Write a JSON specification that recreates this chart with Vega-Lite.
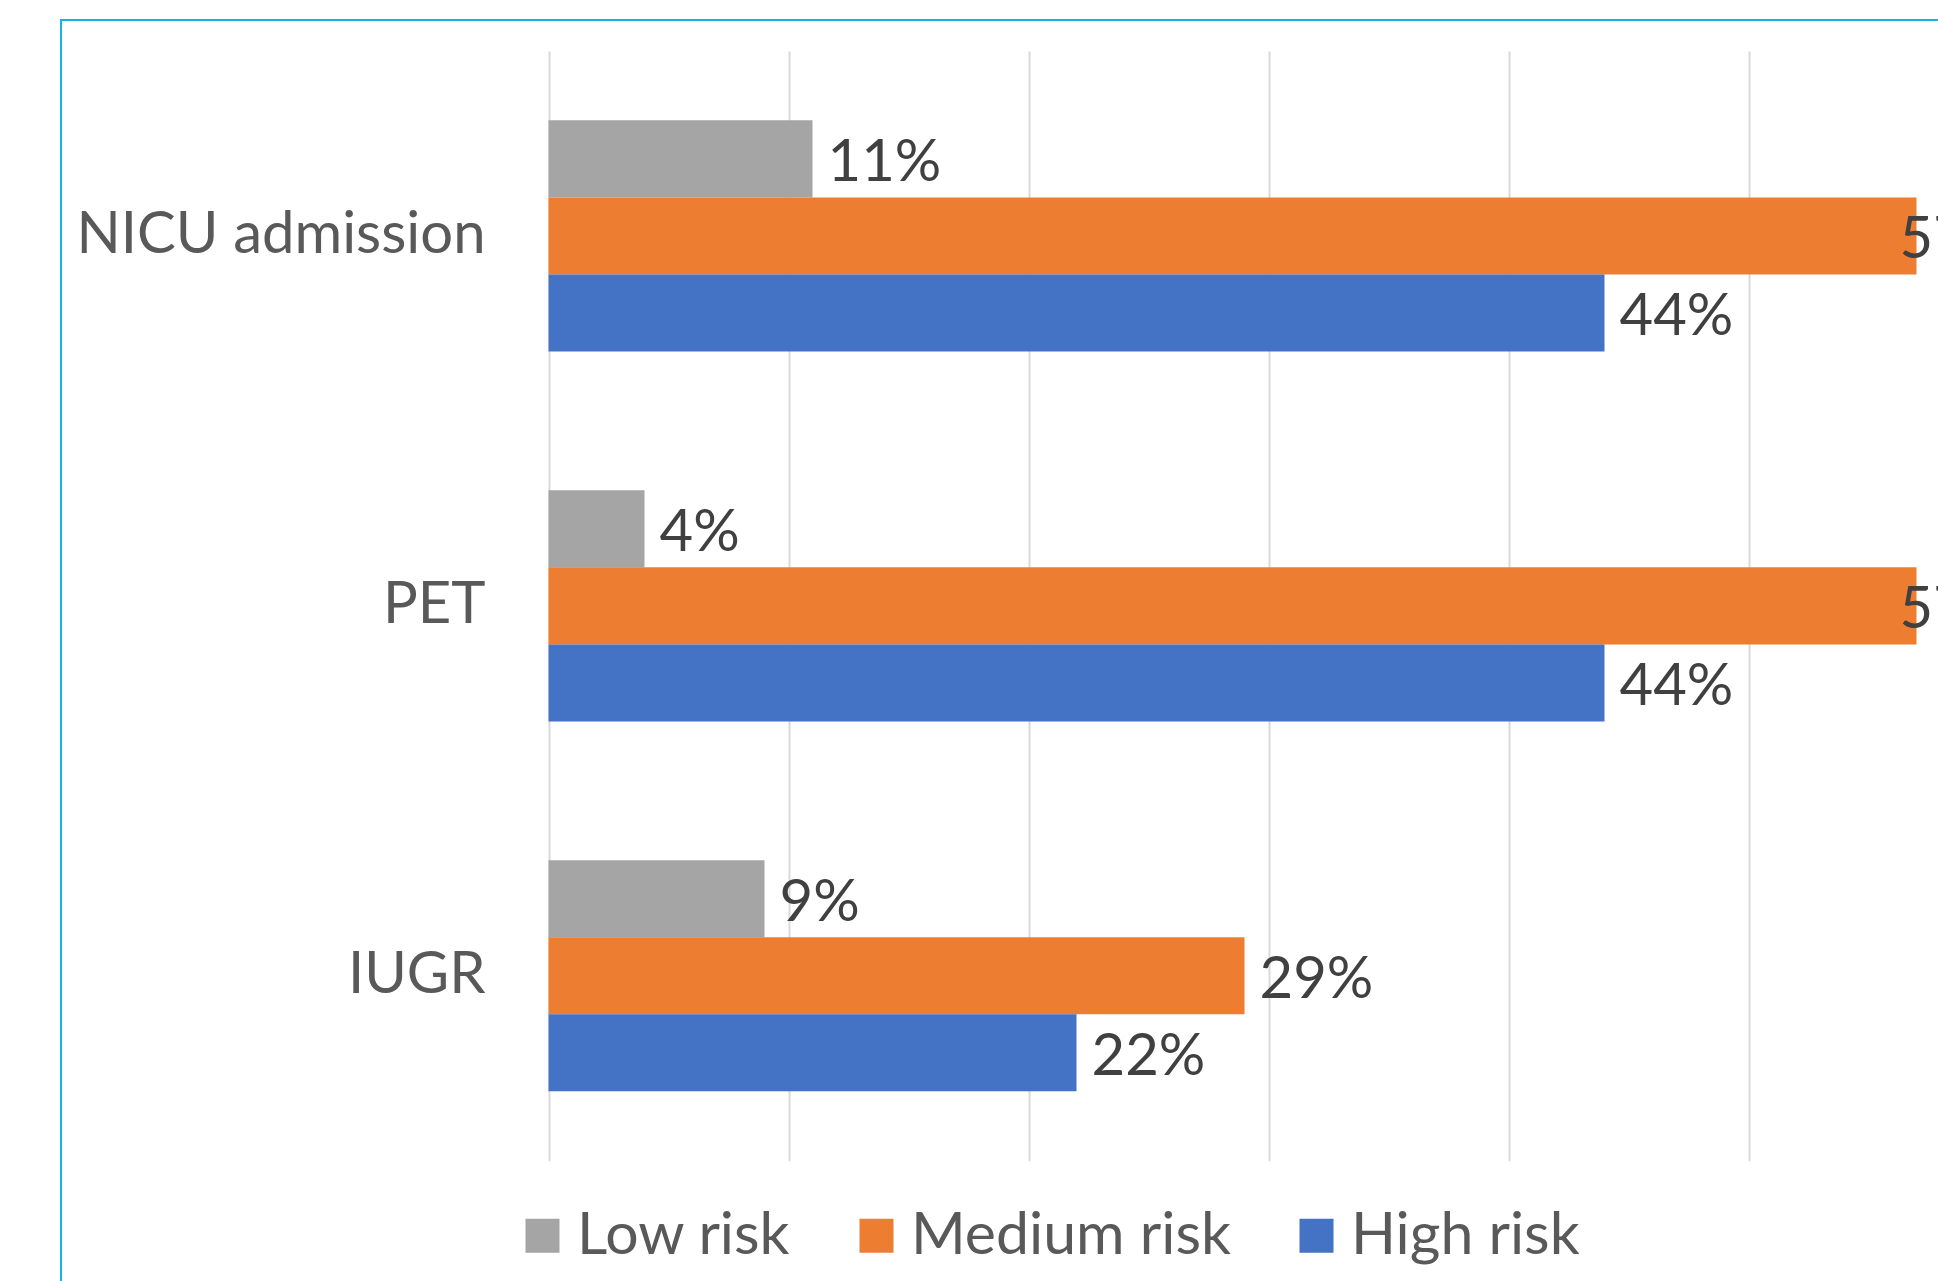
{
  "$schema": "https://vega.github.io/schema/vega-lite/v6.json",
  "autosize": {"type": "none"},
  "padding": {"left": 61, "top": 20, "right": 0, "bottom": 0},
  "width": 1877,
  "height": 1261,
  "background": "#FFFFFF",
  "config": {
    "view": {"fill": "#FFFFFF", "stroke": "#14B4E4", "strokeWidth": 2, "strokeDash": [1877, 3138, 1262]},
    "font": "Lato"
  },
  "data": {
    "values": [
      {"outcome": "NICU admission", "risk": "Low risk", "pct": 0.11},
      {"outcome": "NICU admission", "risk": "Medium risk", "pct": 0.57},
      {"outcome": "NICU admission", "risk": "High risk", "pct": 0.44},
      {"outcome": "PET", "risk": "Low risk", "pct": 0.04},
      {"outcome": "PET", "risk": "Medium risk", "pct": 0.57},
      {"outcome": "PET", "risk": "High risk", "pct": 0.44},
      {"outcome": "IUGR", "risk": "Low risk", "pct": 0.09},
      {"outcome": "IUGR", "risk": "Medium risk", "pct": 0.29},
      {"outcome": "IUGR", "risk": "High risk", "pct": 0.22}
    ]
  },
  "encoding": {
    "y": {
      "field": "outcome",
      "type": "nominal",
      "sort": ["NICU admission", "PET", "IUGR"],
      "scale": {"range": [31, 1140.7], "paddingInner": 0.375, "paddingOuter": 0.1875},
      "axis": {
        "title": null,
        "domain": false,
        "ticks": false,
        "tickSize": 0,
        "grid": false,
        "offset": -424,
        "labelPadding": 0,
        "labelAlign": "right",
        "labelFont": "Lato",
        "labelFontSize": 58,
        "labelColor": "#595959",
        "labelLimit": 0
      }
    },
    "yOffset": {
      "field": "risk",
      "type": "nominal",
      "sort": ["Low risk", "Medium risk", "High risk"],
      "scale": {"paddingInner": 0, "paddingOuter": 0}
    },
    "x": {
      "field": "pct",
      "type": "quantitative",
      "scale": {"domain": [0, 0.6], "range": [487.5, 1927.5], "nice": false, "zero": true},
      "axis": {
        "title": null,
        "orient": "top",
        "labels": false,
        "ticks": false,
        "domain": false,
        "grid": true,
        "gridColor": "#D9D9D9",
        "gridWidth": 2,
        "values": [0, 0.1, 0.2, 0.3, 0.4, 0.5]
      }
    }
  },
  "layer": [
    {
      "mark": {"type": "bar"},
      "encoding": {
        "color": {
          "field": "risk",
          "type": "nominal",
          "sort": ["Low risk", "Medium risk", "High risk"],
          "scale": {"domain": ["Low risk", "Medium risk", "High risk"], "range": ["#A5A5A5", "#ED7D31", "#4472C4"]},
          "legend": {
            "title": null,
            "orient": "none",
            "direction": "horizontal",
            "legendX": 452,
            "legendY": 1186,
            "padding": 0,
            "columnPadding": 56,
            "labelOffset": 5,
            "labelFont": "Lato",
            "labelFontSize": 59,
            "labelColor": "#595959",
            "labelLimit": 0,
            "symbolType": "square",
            "symbolSize": 1156,
            "symbolStrokeWidth": 0
          }
        }
      }
    },
    {
      "transform": [{"filter": "datum.pct < 0.5"}],
      "mark": {"type": "text", "align": "left", "baseline": "middle", "dx": 15, "dy": 5, "font": "Lato", "fontSize": 58, "color": "#404040"},
      "encoding": {"text": {"field": "pct", "type": "quantitative", "format": ".0%"}}
    },
    {
      "transform": [{"filter": "datum.pct >= 0.5"}],
      "mark": {"type": "text", "align": "left", "baseline": "middle", "dx": -17, "dy": 5, "font": "Lato", "fontSize": 58, "color": "#404040"},
      "encoding": {"text": {"field": "pct", "type": "quantitative", "format": ".0%"}}
    }
  ]
}
